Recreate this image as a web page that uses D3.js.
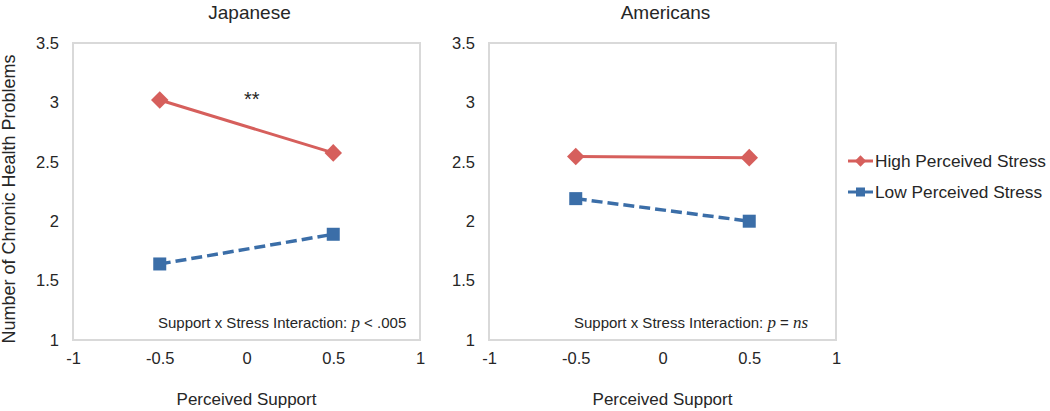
<!DOCTYPE html>
<html><head><meta charset="utf-8">
<script src="https://cdn.jsdelivr.net/npm/d3@7"></script>
<style>
body{margin:0;background:#fff;}
text{font-family:"Liberation Sans",Arial,sans-serif;fill:#262626;}
</style></head>
<body>
<svg id="c" width="1050" height="411"></svg>
<script>
const xValues = [-0.5, 0.5];
const panels = ["Japanese", "Americans"];
const highStress = [[3.02, 2.575], [2.545, 2.535]];
const lowStress = [[1.64, 1.89], [2.19, 2.0]];
const xTicks = [-1, -0.5, 0, 0.5, 1];
const yTicks = [1, 1.5, 2, 2.5, 3, 3.5];
const annotations = [["Support x Stress Interaction: ", "p", " < .005"], ["Support x Stress Interaction: ", "p", " = ", "ns"]];
const stars = ["**", ""];
const seriesNames = ["High Perceived Stress", "Low Perceived Stress"];
const red = "#d65f5c", blue = "#3b6ea8";

const svg = d3.select("#c");
const panelLeft = [73, 489];
const W = 347, plotTop = 43, plotBottom = 340;
const fmt = d => String(d);

panels.forEach((name, i) => {
  const x = d3.scaleLinear().domain([-1, 1]).range([panelLeft[i], panelLeft[i] + W]);
  const y = d3.scaleLinear().domain([1, 3.5]).range([plotBottom, plotTop]);
  const g = svg.append("g");
  g.append("rect").attr("x", x(-1)).attr("y", y(3.5)).attr("width", W).attr("height", plotBottom - plotTop)
    .attr("fill", "none").attr("stroke", "#d9d9d9").attr("stroke-width", 2);
  const xa = g.append("g").attr("transform", `translate(0,${plotBottom})`)
    .call(d3.axisBottom(x).tickValues(xTicks).tickSize(0).tickPadding(12).tickFormat(fmt));
  xa.select(".domain").remove();
  xa.selectAll("text").style("font-size", "16.5px").attr("fill", "#262626");
  const ya = g.append("g").attr("transform", `translate(${x(-1)},0)`)
    .call(d3.axisLeft(y).tickValues(yTicks).tickSize(0).tickPadding(14).tickFormat(fmt));
  ya.select(".domain").remove();
  ya.selectAll("text").style("font-size", "16.5px").attr("fill", "#262626");

  g.append("text").attr("x", x(0) + 3).attr("y", 19).attr("text-anchor", "middle")
    .style("font-size", "19px").text(name);
  g.append("text").attr("x", x(0)).attr("y", 405).attr("text-anchor", "middle")
    .style("font-size", "17px").text("Perceived Support");

  const line = d3.line().x((d, j) => x(xValues[j])).y(d => y(d));
  g.append("path").datum(highStress[i]).attr("d", line).attr("fill", "none")
    .attr("stroke", red).attr("stroke-width", 3);
  g.append("path").datum(lowStress[i]).attr("d", line).attr("fill", "none")
    .attr("stroke", blue).attr("stroke-width", 3.5).attr("stroke-dasharray", "11,5");
  g.selectAll(".dia").data(highStress[i]).join("path")
    .attr("transform", (d, j) => `translate(${x(xValues[j])},${y(d)}) rotate(45)`)
    .attr("d", "M-6.2,-6.2H6.2V6.2H-6.2Z").attr("fill", red);
  g.selectAll(".sq").data(lowStress[i]).join("rect")
    .attr("x", (d, j) => x(xValues[j]) - 6.5).attr("y", d => y(d) - 6.5)
    .attr("width", 13).attr("height", 13).attr("fill", blue);

  if (stars[i]) g.append("text").attr("x", x(0.03)).attr("y", 106).attr("text-anchor", "middle")
    .style("font-size", "20px").text(stars[i]);
  const t = g.append("text").attr("x", x(-0.51)).attr("y", 328).attr("text-anchor", "start").style("font-size", "15px");
  annotations[i].forEach(s => {
    const sp = t.append("tspan").text(s);
    if (s === "p" || s === "ns") sp.style("font-family", "'Liberation Serif',serif").style("font-style", "italic").style("font-size", "17px");
  });
});

svg.append("text").attr("transform", "translate(15,199) rotate(-90)").attr("text-anchor", "middle")
  .style("font-size", "18px").text("Number of Chronic Health Problems");

const legY = [161, 192], legCol = [red, blue];
seriesNames.forEach((s, k) => {
  const lg = svg.append("g");
  lg.append("line").attr("x1", 848).attr("x2", 873).attr("y1", legY[k]).attr("y2", legY[k])
    .attr("stroke", legCol[k]).attr("stroke-width", 3);
  if (k === 0) lg.append("path").attr("transform", `translate(860.5,${legY[k]}) rotate(45)`).attr("d", "M-4,-4H4V4H-4Z").attr("fill", red);
  else lg.append("rect").attr("x", 856).attr("y", legY[k] - 4.5).attr("width", 9).attr("height", 9).attr("fill", blue);
  lg.append("text").attr("x", 875).attr("y", legY[k] + 6).style("font-size", "17.3px").text(s);
});
</script>
</body></html>
